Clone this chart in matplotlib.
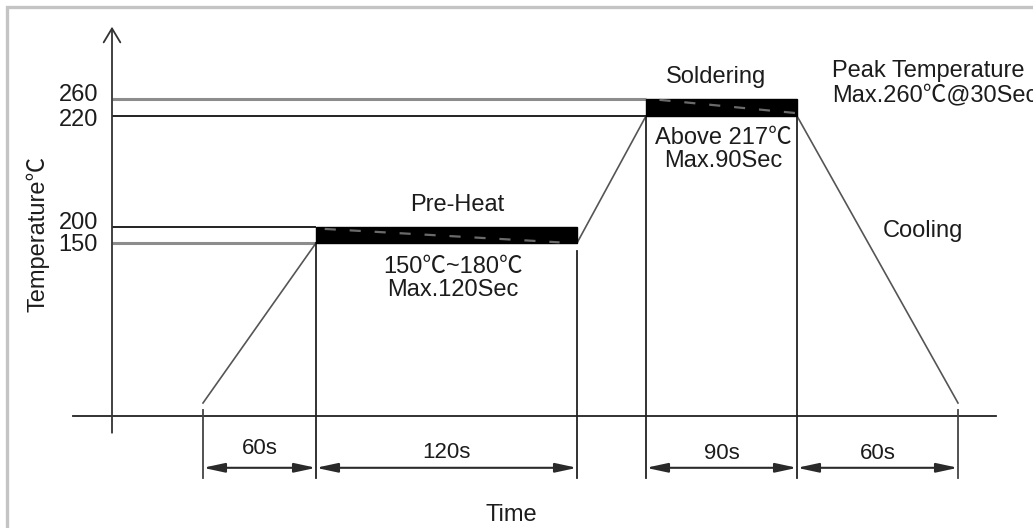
import numpy as np
import matplotlib.pyplot as plt
from matplotlib.patches import Rectangle, FancyArrowPatch

plt.rcParams['font.family'] = ['Liberation Sans', 'Noto Sans CJK SC', 'DejaVu Sans']
plt.rcParams['lines.scale_dashes'] = False

# reflow profile values (seconds, degC)
tick_temps = [260, 220, 200, 150]
preheat_temps = [150, 200]
solder_temps = [220, 260]
stage_start = [0, 60, 210, 300]
stage_secs = [60, 120, 90, 60]
stage_labels = ['60s', '120s', '90s', '60s']
ramp_times = [[0, 60], [180, 210], [300, 360]]
ramp_temps = [[25, 150], [150, 220], [220, 25]]

# the drawing is a schematic, not to scale: piecewise scale for both axes
x_knots = [-110, -50, 0, 60, 180, 210, 300, 360, 388]
x_canvas = [0, 112, 203, 316, 577, 646, 797, 958, 1033]
y_knots = [-80, 0, 25, 150, 200, 220, 260, 360]
y_canvas = [0, 112, 125, 285, 301, 412, 429, 528]

fx = (lambda v: np.interp(v, x_knots, x_canvas), lambda v: np.interp(v, x_canvas, x_knots))
fy = (lambda v: np.interp(v, y_knots, y_canvas), lambda v: np.interp(v, y_canvas, y_knots))

ink = '#1c1c1c'
fs = 17

fig = plt.figure(figsize=(10.33, 5.28), dpi=100)
ax = fig.add_axes([0, 0, 1, 1])
ax.set_xscale('function', functions=fx)
ax.set_yscale('function', functions=fy)
ax.set_xlim(x_knots[0], x_knots[-1])
ax.set_ylim(y_knots[0], y_knots[-1])
ax.axis('off')

# axes with arrow on temperature
ax.plot([-71, 374], [0, 0], color='#222', lw=1.3)
ax.annotate('', xy=(-50, 333), xytext=(-50, -12),
            arrowprops=dict(arrowstyle='->,head_length=0.5,head_width=0.3',
                            lw=1.3, color='#333', mutation_scale=20, shrinkA=0, shrinkB=0))

# temperature guide lines
end_t = {260: 210, 220: 210, 200: 60, 150: 60}
for t in tick_temps:
    heavy = t in (260, 150)
    ax.plot([-50, end_t[t]], [t, t], color='#8c8c8c' if heavy else '#111',
            lw=2.2 if heavy else 1.3, solid_capstyle='butt')

# preheat and soldering bands
ax.add_patch(Rectangle((stage_start[1], preheat_temps[0]), stage_secs[1],
                       preheat_temps[1] - preheat_temps[0], color='black', zorder=3))
ax.add_patch(Rectangle((stage_start[2], solder_temps[0]), stage_secs[2],
                       solder_temps[1] - solder_temps[0], color='black', zorder=3))
ax.plot([64, 172], [194, 152], color='#6a6a6a', lw=1.6, dashes=(8, 10), zorder=4)
ax.plot([218, 299], [258, 227], color='#6a6a6a', lw=1.6, dashes=(8, 10), zorder=4)

# ramps
for tt, yy in zip(ramp_times, ramp_temps):
    ax.plot(tt, yy, color='#555', lw=1.2)

# stage boundary guides
guide_t = [0, 60, 180, 210, 300, 360]
guide_top = [12, 150, 144, 220, 220, 12]
for t, top in zip(guide_t, guide_top):
    ax.plot([t, t], [-44, top], color='#444' if t in (0, 360) else '#222', lw=1.3)

# dimension arrows
label_y = [-23, -26, -27, -27]
for s, d, lab, ly in zip(stage_start, stage_secs, stage_labels, label_y):
    ax.add_patch(FancyArrowPatch((s, -37), (s + d, -37),
                                 arrowstyle='<|-|>,head_length=1.3,head_width=0.28',
                                 mutation_scale=10, color='#2a2a2a', lw=1.5,
                                 shrinkA=0, shrinkB=0))
    ax.text(s + d / 2, ly, lab, ha='center', va='center', fontsize=fs - 1, color=ink)

# tick labels
tick_dy = {260: 4, 220: -4, 200: 4, 150: -2}
for t in tick_temps:
    ax.annotate(str(t), xy=(-50, t), xytext=(-14, tick_dy[t]), textcoords='offset pixels',
                ha='right', va='center', fontsize=fs, color=ink)

ax.text(-90, 178, 'Temperature℃', rotation=90, ha='center', va='center', fontsize=fs, color=ink)
ax.text(150, -71, 'Time', ha='center', va='center', fontsize=fs, color=ink)
ax.text(125, 204, 'Pre-Heat', ha='center', va='center', fontsize=fs, color=ink)
ax.text(123, 122, '150℃~180℃\nMax.120Sec', ha='center', va='center', fontsize=fs,
        color=ink, linespacing=1.05)
ax.text(252, 282, 'Soldering', ha='center', va='center', fontsize=fs, color=ink)
ax.text(256, 214, 'Above 217℃\nMax.90Sec', ha='center', va='center', fontsize=fs,
        color=ink, linespacing=1.05)
ax.text(313, 276, 'Peak Temperature\nMax.260℃@30Sec', ha='left', va='center', fontsize=fs,
        color=ink, linespacing=1.15)
ax.text(347, 187, 'Cooling', ha='center', va='center', fontsize=fs, color=ink)

# light frame on the top and left edges
fig.add_artist(Rectangle((7 / 1033, -1), 5, 2 - 6.5 / 528, transform=fig.transFigure,
                         fill=False, edgecolor='#c4c4c4', lw=2.4))

fig.savefig('out.png', dpi=100)
